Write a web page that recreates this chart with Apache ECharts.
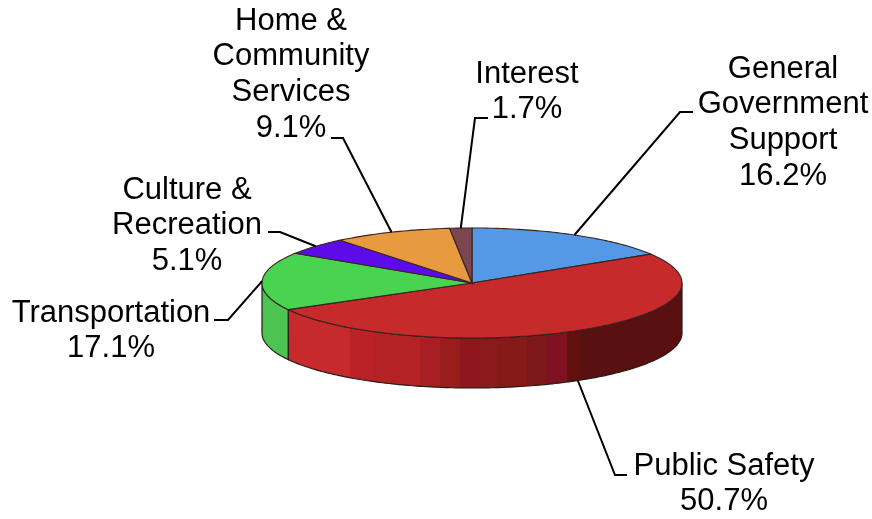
<!DOCTYPE html>
<html>
<head>
<meta charset="utf-8">
<style>html,body{margin:0;padding:0;background:#fff}#chart{width:872px;height:519px}</style>
<script src="https://cdn.jsdelivr.net/npm/echarts@6/dist/echarts.min.js"></script>
</head>
<body>
<div id="chart"></div>
<script>
// Share of expenditures by function, clockwise from twelve o'clock.
const categories = ['General\nGovernment\nSupport', 'Public Safety', 'Transportation', 'Culture &\nRecreation', 'Home &\nCommunity\nServices', 'Interest'];
const shares = [16.2, 50.7, 17.1, 5.1, 9.1, 1.7];
const topColors = ['#5599e6', '#c62a2a', '#48d350', '#5c0ce8', '#e89a3e', '#7a4650'];

// Tilted disc geometry.
const disc = { cx: 472, cy: 283, rx: 210, ry: 55, depth: 50 };
// Text centre (x, first line y) and the elbow of each leader line.
const labelAnchors = [[783, 69], [724, 466], [111, 313], [187, 190], [291, 21], [527, 74]];
const leaderElbows = [[[693, 112], [680, 112]], [[627, 475], [615, 475]], [[214, 320], [228, 320]], [[268, 232], [280, 232]], [[331, 138], [343, 138]], [[488, 118], [475, 118]]];

const total = shares.reduce((a, b) => a + b, 0);
const turn = v => v / total * 360;
const startAngles = shares.map((_, i) => shares.slice(0, i).reduce((a, b) => a + turn(b), 0));

function rim(deg, drop) {
  const r = deg * Math.PI / 180;
  return [disc.cx + disc.rx * Math.sin(r), disc.cy - disc.ry * Math.cos(r) + (drop || 0)];
}
function arc(from, to, drop) {
  const pts = [];
  const n = Math.max(2, Math.ceil(Math.abs(to - from)));
  for (let k = 0; k <= n; k++) pts.push(rim(from + (to - from) * k / n, drop));
  return pts;
}

// Banded horizontal shading of the front wall of the largest slice, left to right.
const wallBands = [
  [0, '#c62a2c'], [0.157, '#ba2228'], [0.22, '#b52226'], [0.335, '#a81e22'], [0.386, '#9a1d1e'],
  [0.437, '#8f161c'], [0.487, '#8a1a1c'], [0.53, '#861a18'], [0.607, '#7e1818'], [0.657, '#7e1222'],
  [0.708, '#621010'], [0.74, '#581010']
];
const wallStops = [];
wallBands.forEach((b, i) => {
  const end = i + 1 < wallBands.length ? wallBands[i + 1][0] : 1;
  wallStops.push({ offset: b[0], color: b[1] }, { offset: end, color: b[1] });
});

const option = {
  animation: false,
  backgroundColor: '#ffffff',
  series: [
    {
      // Front walls, only the part of each slice facing the viewer.
      type: 'custom', coordinateSystem: 'none', z: 1, silent: true,
      data: shares.map((v, i) => [v, i]),
      renderItem(params, api) {
        const i = api.value(1);
        const a0 = Math.max(startAngles[i], 90);
        const a1 = Math.min(startAngles[i] + turn(api.value(0)), 270);
        if (a1 <= a0) return { type: 'group', children: [] };
        const points = arc(a0, a1, 0).concat(arc(a1, a0, disc.depth));
        const fill = i === 1 ? new echarts.graphic.LinearGradient(0, 0, 1, 0, wallStops) : '#4cc451';
        return { type: 'polygon', shape: { points }, style: { fill, stroke: '#2a1a18', lineWidth: 1.2 } };
      }
    },
    {
      // Top faces of the slices.
      type: 'custom', coordinateSystem: 'none', z: 2, silent: true,
      data: shares.map((v, i) => [v, i]),
      renderItem(params, api) {
        const i = api.value(1);
        const a0 = startAngles[i];
        const points = [[disc.cx, disc.cy]].concat(arc(a0, a0 + turn(api.value(0)), 0));
        return { type: 'polygon', shape: { points }, style: { fill: topColors[i], stroke: '#3b2320', lineWidth: 1.1 } };
      }
    },
    {
      // Leader lines and labels, each leader starting at its slice's mid-angle.
      type: 'custom', coordinateSystem: 'none', z: 3, silent: true,
      data: shares.map((v, i) => [v, i]),
      renderItem(params, api) {
        const i = api.value(1);
        const v = api.value(0);
        const mid = startAngles[i] + turn(v) / 2;
        const front = mid > 90 && mid < 270;
        const start = rim(mid, front ? disc.depth : 0);
        const lines = categories[i].split('\n').concat(v.toFixed(1) + '%');
        const [tx, ty] = labelAnchors[i];
        const children = [{
          type: 'polyline',
          shape: { points: [leaderElbows[i][0], leaderElbows[i][1], start] },
          style: { fill: 'none', stroke: '#000', lineWidth: 2 }
        }];
        lines.forEach((line, k) => children.push({
          type: 'text',
          style: {
            x: tx, y: ty + k * 35.8, text: line, fill: '#000',
            font: '31px "Liberation Sans", Arial, sans-serif',
            align: 'center', verticalAlign: 'middle'
          }
        }));
        return { type: 'group', children };
      }
    }
  ]
};

echarts.init(document.getElementById('chart'), null, { renderer: 'canvas' }).setOption(option);
</script>
</body>
</html>
